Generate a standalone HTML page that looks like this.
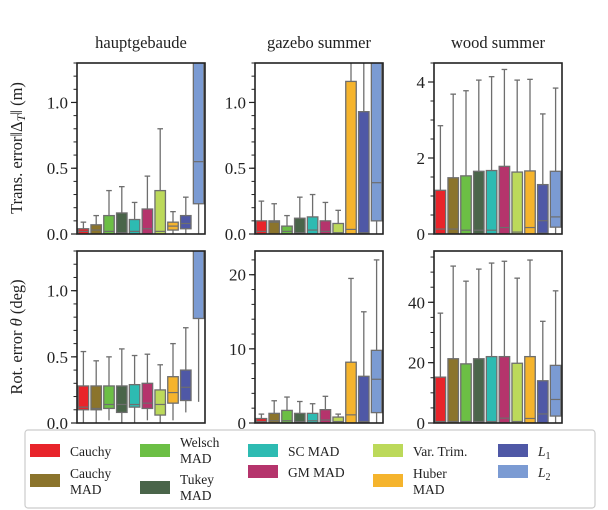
<!DOCTYPE html>
<html><head><meta charset="utf-8"><style>
html,body{margin:0;padding:0;background:#fff}
svg{display:block;font-family:"Liberation Serif","DejaVu Serif",serif}
</style></head><body>
<svg id="chart" width="608" height="510" viewBox="0 0 608 510" xmlns="http://www.w3.org/2000/svg"></svg>
<script>
const methods = ["Cauchy","Cauchy MAD","Welsch MAD","Tukey MAD","SC MAD","GM MAD","Var. Trim.","Huber MAD","L1","L2"];
const colors = ["#e8242a","#8b742c","#6cbf45","#4a654a","#2dbbb2","#b5346c","#bcd95a","#f5b42d","#4f58a6","#7b9bd3"];
const datasets = ["hauptgebaude","gazebo summer","wood summer"];
// each box: [whiskerLow, q1, median, q3, whiskerHigh]
const hauptTrans = [[0,0,0.02,0.04,0.09],[0,0,0.03,0.07,0.14],[0,0,0.02,0.14,0.33],[0,0,0.01,0.16,0.36],[0,0,0.02,0.11,0.24],[0,0,0.04,0.19,0.44],[0,0,0.02,0.33,0.80],[0,0.03,0.06,0.09,0.17],[0,0.04,0.08,0.14,0.28],[0,0.23,0.55,2.0,3.0]];
const gazeboTrans = [[0,0,0.02,0.10,0.25],[0,0,0.09,0.10,0.23],[0,0,0.02,0.06,0.14],[0,0,0.01,0.12,0.28],[0,0,0.03,0.13,0.30],[0,0,0.02,0.10,0.24],[0,0,0.01,0.08,0.18],[0,0,0.035,1.16,2.0],[0,0,0.01,0.93,2.0],[0,0.10,0.39,2.0,3.0]];
const woodTrans = [[0,0,0.13,1.15,2.85],[0,0,0.13,1.48,3.68],[0,0,0.10,1.53,3.77],[0,0,0.10,1.65,4.05],[0,0,0.10,1.67,4.14],[0,0,0.17,1.78,4.33],[0,0,0.05,1.63,4.05],[0,0,0.17,1.66,4.07],[0,0.02,0.35,1.30,3.16],[0,0.18,0.45,1.65,3.84]];
const hauptRot = [[0,0.10,0.12,0.28,0.54],[0,0.10,0.11,0.28,0.47],[0.02,0.11,0.14,0.28,0.50],[0,0.08,0.14,0.28,0.56],[0,0.12,0.14,0.29,0.51],[0.02,0.11,0.15,0.30,0.52],[0,0.06,0.14,0.25,0.44],[0.02,0.15,0.23,0.35,0.60],[0.08,0.17,0.27,0.40,0.72],[0.16,0.79,2.0,2.5,3.0]];
const gazeboRot = [[0,0,0.2,0.6,1.2],[0,0,0.3,1.3,3.0],[0,0,0.3,1.7,3.5],[0,0,0.2,1.3,2.9],[0,0,0.3,1.3,2.6],[0,0,0.4,1.8,3.6],[0,0,0.2,0.8,1.2],[0,0,1.1,8.2,19.5],[0,0,0.2,6.3,15.0],[0,1.4,5.9,9.8,22.0]];
const woodRot = [[0,0,0.5,15.2,36.4],[0,0,0.5,21.3,52.0],[0,0,0.5,19.6,47.0],[0,0,0.5,21.3,51.0],[0,0,0.5,22.0,53.0],[0,0,1.6,22.0,53.6],[0,0,0.5,19.8,48.0],[0,0,1.5,22.0,54.0],[0,0,3.0,14.0,33.7],[0,2.3,7.8,19.1,43.8]];
const yMax = [[1.3,1.3,4.5],[1.3,23.2,57]];
const majorTicks = [[[0,0.5,1.0],[0,0.5,1.0],[0,2,4]],[[0,0.5,1.0],[0,10,20],[0,20,40]]];
const tickLabels = [[["0.0","0.5","1.0"],["0.0","0.5","1.0"],["0","2","4"]],[["0.0","0.5","1.0"],["0","10","20"],["0","20","40"]]];
const minorStep = [[0.1,0.1,0.5],[0.1,2,5]];
const panelData = [[hauptTrans,gazeboTrans,woodTrans],[hauptRot,gazeboRot,woodRot]];

const NS="http://www.w3.org/2000/svg";
const svg=document.getElementById('chart');
function mk(tag,attrs,parent){const e=document.createElementNS(NS,tag);for(const k in attrs)e.setAttribute(k,attrs[k]);(parent||svg).appendChild(e);return e;}
const colX=[77,255,434], colW=128;
const rowY=[63,251], rowH=[171,172];
const defs=mk('defs',{});
for(let r=0;r<2;r++)for(let c=0;c<3;c++){
  const x0=colX[c], y0=rowY[r], h=rowH[r], ymax=yMax[r][c];
  const ys=v=>y0+h-(v/ymax)*h;
  const xs=i=>x0+colW*(i+0.5)/10;
  const g=mk('g',{});
  
  
  const cp=mk('clipPath',{id:'cp'+r+c},defs);mk('rect',{x:x0,y:y0,width:colW,height:h},cp);
  const marks=mk('g',{'clip-path':'url(#cp'+r+c+')'},g);
  panelData[r][c].forEach((b,i)=>{
    const bw=10.5, cx=xs(i);
    const bg=mk('g',{},marks);
    
    
    mk('line',{x1:cx,x2:cx,y1:ys(b[3]),y2:ys(b[4]),stroke:'#6e6e6e','stroke-width':1.3},bg);
    mk('line',{x1:cx-2.8,x2:cx+2.8,y1:ys(b[4]),y2:ys(b[4]),stroke:'#6e6e6e','stroke-width':1.3},bg);
    mk('line',{x1:cx,x2:cx,y1:ys(b[0]),y2:ys(b[1]),stroke:'#6e6e6e','stroke-width':1.3},bg);
    mk('rect',{x:cx-bw/2,y:ys(b[3]),width:bw,height:Math.max(0,ys(b[1])-ys(b[3])),fill:colors[i],stroke:'#6e6e6e','stroke-width':1.3},bg);
    mk('line',{x1:cx-bw/2,x2:cx+bw/2,y1:ys(b[2]),y2:ys(b[2]),stroke:'#6e6e6e','stroke-width':1.2},bg);
  });
  // minor ticks
  for(let v=0;v<=ymax+1e-9;v+=minorStep[r][c]){mk('line',{x1:x0-3.5,x2:x0,y1:ys(v),y2:ys(v),stroke:'#222','stroke-width':1},g);}
  majorTicks[r][c].forEach((v,k)=>{
    mk('line',{x1:x0-6,x2:x0,y1:ys(v),y2:ys(v),stroke:'#222','stroke-width':1.2},g);
    const t=mk('text',{x:x0-9,y:ys(v)+6,'text-anchor':'end','font-size':17,fill:'#222'},g);
    
    
    t.textContent=tickLabels[r][c][k];
  });
  mk('rect',{x:x0,y:y0,width:colW,height:h,fill:'none',stroke:'#222','stroke-width':1.6},g);
  if(r===0){const t=mk('text',{x:x0+colW/2,y:48,'text-anchor':'middle','font-size':16.5,fill:'#222'},g);
    
    
    t.textContent=datasets[c];}
}
</script>
<g></g>
<script>
// axis titles
(function(){
const svg=document.getElementById('chart');const NS="http://www.w3.org/2000/svg";
function mk(tag,attrs,parent){const e=document.createElementNS(NS,tag);for(const k in attrs)e.setAttribute(k,attrs[k]);(parent||svg).appendChild(e);return e;}
const t1=mk('text',{transform:'translate(22,148) rotate(-90)','text-anchor':'middle','font-size':16.5,fill:'#222'});


t1.innerHTML='Trans. error‖Δ<tspan font-style="italic" font-size="12" dy="3">T</tspan><tspan dy="-3">‖ (m)</tspan>';
const t2=mk('text',{transform:'translate(22,337) rotate(-90)','text-anchor':'middle','font-size':16.5,fill:'#222'});


t2.innerHTML='Rot. error <tspan font-style="italic">θ</tspan> (deg)';
// legend
const lg=mk('g',{});


mk('rect',{x:25,y:430,width:570,height:78,rx:3,fill:'#fff',stroke:'#ccc','stroke-width':1.2},lg);
const entries=[
 {sx:30,sy:444,c:"#e8242a",lines:["Cauchy"],ty:[456]},
 {sx:30,sy:474,c:"#8b742c",lines:["Cauchy","MAD"],ty:[478,494]},
 {sx:140,sy:444,c:"#6cbf45",lines:["Welsch","MAD"],ty:[447,463]},
 {sx:140,sy:481,c:"#4a654a",lines:["Tukey","MAD"],ty:[484,500]},
 {sx:248,sy:444,c:"#2dbbb2",lines:["SC MAD"],ty:[456]},
 {sx:248,sy:465,c:"#b5346c",lines:["GM MAD"],ty:[477]},
 {sx:373,sy:444,c:"#bcd95a",lines:["Var. Trim."],ty:[456]},
 {sx:373,sy:474,c:"#f5b42d",lines:["Huber","MAD"],ty:[478,494]},
 {sx:498,sy:444,c:"#4f58a6",lines:["L1"],ty:[456]},
 {sx:498,sy:465,c:"#7b9bd3",lines:["L2"],ty:[477]}];
entries.forEach(e=>{
  const g=mk('g',{},lg);
  
  
  mk('rect',{x:e.sx,y:e.sy,width:30,height:13,fill:e.c},g);
  e.lines.forEach((l,k)=>{
    const t=mk('text',{x:e.sx+40,y:e.ty[k],'font-size':13.5,fill:'#222'},g);
    if(l==="L1"||l==="L2"){t.innerHTML='<tspan font-style="italic">L</tspan><tspan font-size="10" dy="3">'+l[1]+'</tspan>';}
    else t.textContent=l;
  });
});
})();
</script>
</body></html>
